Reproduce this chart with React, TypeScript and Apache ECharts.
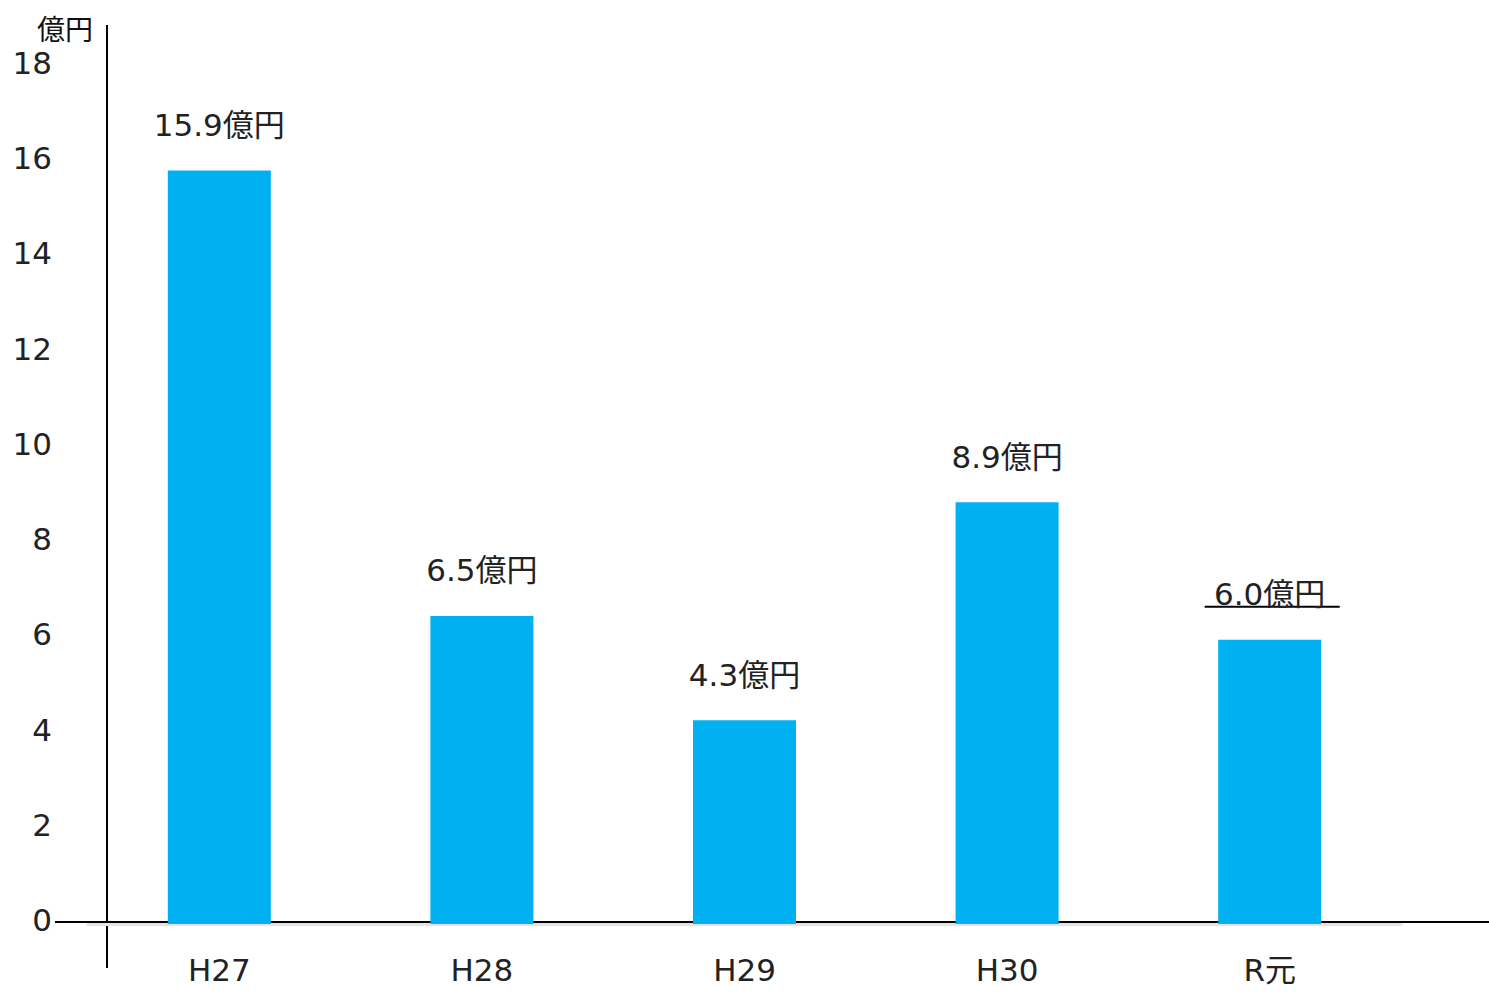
import React, { useEffect, useRef } from "react";
import * as echarts from "echarts";

const categories = ["H27", "H28", "H29", "H30", "R元"];
const values = [15.9, 6.5, 4.3, 8.9, 6.0];
const valueLabels = ["15.9億円", "6.5億円", "4.3億円", "8.9億円", "6.0億円"];
const yUnit = "億円";
const yMin = 0;
const yMax = 18;
const yInterval = 2;

const FONT = "'DejaVu Sans', 'Noto Sans CJK JP', sans-serif";

export default function App() {
  const ref = useRef<HTMLDivElement>(null);
  useEffect(() => {
    if (!ref.current) return;
    const chart = echarts.init(ref.current, undefined, { renderer: "svg" });
    chart.setOption({
      animation: false,
      backgroundColor: "#ffffff",
      grid: [
        { left: 88, right: 88, top: 71, bottom: 69, containLabel: false },
        { left: 88, right: 88, top: 63, bottom: 73, containLabel: false },
      ],
      xAxis: [
        {
          type: "category",
          gridIndex: 0,
          data: categories,
          axisLine: { show: true, lineStyle: { color: "#e4e4e4", width: 3 } },
          axisTick: { show: false },
          axisLabel: {
            fontSize: 31,
            color: "#222",
            fontFamily: FONT,
            margin: 30,
          },
        },
        {
          type: "category",
          gridIndex: 1,
          data: categories,
          show: false,
        },
      ],
      yAxis: [
        {
          type: "value",
          gridIndex: 0,
          min: yMin,
          max: yMax,
          interval: yInterval,
          splitLine: { show: false },
          axisLine: { show: false },
          axisTick: { show: false },
          axisLabel: { show: false },
        },
        {
          type: "value",
          gridIndex: 1,
          min: yMin,
          max: yMax,
          interval: yInterval,
          splitLine: { show: false },
          axisLine: { show: false },
          axisTick: { show: false },
          axisLabel: {
            fontSize: 31,
            color: "#222",
            fontFamily: FONT,
            margin: 36,
          },
        },
      ],
      series: [
        {
          type: "bar",
          xAxisIndex: 0,
          yAxisIndex: 0,
          data: values,
          barWidth: 103,
          itemStyle: { color: "#00B0F0" },
          label: {
            show: true,
            position: "top",
            distance: 30,
            fontSize: 31,
            color: "#222",
            fontFamily: FONT,
            formatter: (p: any) => valueLabels[p.dataIndex],
          },
        },
      ],
    });
    const last = categories.length - 1;
    const pt = chart.convertToPixel({ seriesIndex: 0 }, [last, values[last]]) as number[];
    const zero = chart.convertToPixel({ yAxisIndex: 0 }, 0) as number;
    chart.setOption({
      graphic: [
        {
          type: "line",
          shape: { x1: 107, y1: 25, x2: 107, y2: 968 },
          style: { stroke: "#000", lineWidth: 2 },
        },
        {
          type: "line",
          shape: { x1: 55, y1: zero - 2, x2: 1489, y2: zero - 2 },
          style: { stroke: "#000", lineWidth: 2 },
        },
        {
          type: "line",
          shape: { x1: pt[0] - 65, y1: pt[1] - 33, x2: pt[0] + 70, y2: pt[1] - 33 },
          style: { stroke: "#000", lineWidth: 2 },
        },
        {
          type: "text",
          x: 93,
          y: 28,
          style: {
            text: yUnit,
            fontSize: 28,
            fill: "#111",
            fontFamily: "'Noto Sans CJK JP', sans-serif",
            align: "right",
            verticalAlign: "middle",
          },
        },
      ],
    });
    return () => chart.dispose();
  }, []);
  return (
    <div
      ref={ref}
      style={{ position: "fixed", left: 0, top: 0, width: 1489, height: 993 }}
    />
  );
}
